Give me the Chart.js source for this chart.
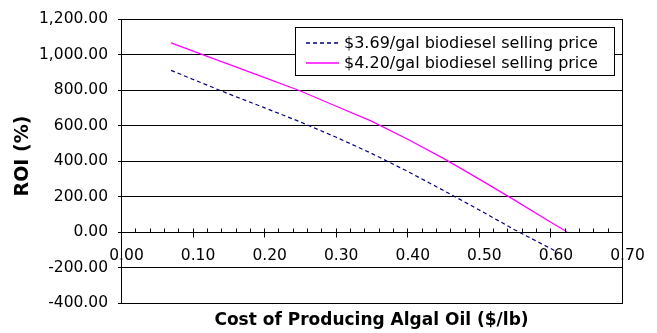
<!DOCTYPE html>
<html>
<head>
<meta charset="utf-8">
<script src="https://cdn.jsdelivr.net/npm/chart.js@4/dist/chart.umd.min.js"></script>
<style>
  html, body { margin: 0; padding: 0; background: #fff; }
  #wrap { width: 657px; height: 333px; }
</style>
</head>
<body>
<div id="wrap"><canvas id="roi" width="657" height="333"></canvas></div>
<script>
// Cost of producing algal oil ($/lb) and resulting ROI (%) for two selling prices
const cost369 = [0.07, 0.10, 0.15, 0.20, 0.25, 0.30, 0.35, 0.40, 0.45, 0.50, 0.55, 0.60, 0.61];
const roi369  = [912, 862, 780, 702, 622, 536, 444, 343, 236, 126, 13, -92, -114];
const cost420 = [0.07, 0.10, 0.15, 0.20, 0.25, 0.30, 0.35, 0.40, 0.45, 0.50, 0.55, 0.60, 0.623];
const roi420  = [1067, 1022, 947, 872, 797, 711, 626, 525, 417, 300, 180, 57, 2];

const seriesLabels = ['$3.69/gal biodiesel selling price', '$4.20/gal biodiesel selling price'];
const xTicks = [0, 0.1, 0.2, 0.3, 0.4, 0.5, 0.6, 0.7];
const xMinorTicks = [0, 0.02, 0.04, 0.06, 0.08, 0.1, 0.12, 0.14, 0.16, 0.18, 0.2, 0.22, 0.24, 0.26, 0.28, 0.3,
  0.32, 0.34, 0.36, 0.38, 0.4, 0.42, 0.44, 0.46, 0.48, 0.5, 0.52, 0.54, 0.56, 0.58, 0.6, 0.62, 0.64, 0.66, 0.68, 0.7];
const yTicks = [-400, -200, 0, 200, 400, 600, 800, 1000, 1200];
const xTitle = 'Cost of Producing Algal Oil ($/lb)';
const yTitle = 'ROI (%)';

const FONT = '"DejaVu Sans", "Liberation Sans", Arial, sans-serif';

function fmtNum(v) {
  const neg = v < 0;
  const parts = Math.abs(v).toFixed(2).split('.');
  parts[0] = parts[0].replace(/\B(?=(\d{3})+(?!\d))/g, ',');
  return (neg ? '-' : '') + parts.join('.');
}

const toPoints = (xs, ys) => xs.map((x, i) => ({ x: x, y: ys[i] }));

// Tick marks on the x axis that sits at ROI = 0
const axisTickMarks = {
  id: 'axisTickMarks',
  afterDraw(chart) {
    const { ctx, scales: { x, y } } = chart;
    const y0 = Math.round(y.getPixelForValue(0)) + 0.5;
    ctx.save();
    ctx.strokeStyle = '#000';
    ctx.lineWidth = 1;
    xMinorTicks.forEach(v => {
      const major = xTicks.some(t => Math.abs(t - v) < 1e-9);
      const px = Math.round(x.getPixelForValue(v)) + 0.5;
      ctx.beginPath();
      ctx.moveTo(px, y0 - 4);
      ctx.lineTo(px, y0 + (major ? 5 : 0));
      ctx.stroke();
    });
    // right edge of the plot frame
    const r = Math.round(chart.chartArea.right) + 0.5;
    ctx.beginPath();
    ctx.moveTo(r, Math.round(chart.chartArea.top));
    ctx.lineTo(r, Math.round(chart.chartArea.bottom) + 1);
    ctx.stroke();
    ctx.restore();
  }
};

// Rotated y-axis title
const yAxisTitle = {
  id: 'yAxisTitle',
  afterDraw(chart) {
    const { ctx } = chart;
    ctx.save();
    ctx.translate(23, 156);
    ctx.rotate(-Math.PI / 2);
    ctx.font = 'bold 19px ' + FONT;
    ctx.fillStyle = '#000';
    ctx.textAlign = 'center';
    ctx.textBaseline = 'middle';
    ctx.fillText(yTitle, 0, 0);
    ctx.restore();
  }
};

// Framed legend in the upper right of the plot area
const framedLegend = {
  id: 'framedLegend',
  afterDraw(chart) {
    const { ctx, chartArea } = chart;
    const ds = chart.data.datasets;
    ctx.save();
    ctx.font = '16px ' + FONT;
    const textW = Math.max(...ds.map(d => ctx.measureText(d.label).width));
    const padL = 10.5, sample = 33, gap = 5, padR = 16.5, rowH = 20;
    const w = Math.round(padL + sample + gap + textW + padR);
    const h = 48;
    const right = Math.round(chartArea.right) - 7.5;
    const left = right - w;
    const top = Math.round(chartArea.top) + 8.5;
    ctx.fillStyle = '#fff';
    ctx.fillRect(left, top, w, h);
    ctx.strokeStyle = '#000';
    ctx.lineWidth = 1;
    ctx.strokeRect(left, top, w, h);
    ds.forEach((d, i) => {
      const cy = Math.round(top + 15 + i * rowH);
      ctx.save();
      ctx.strokeStyle = d.borderColor;
      ctx.lineWidth = 1.5;
      ctx.setLineDash(d.borderDash || []);
      ctx.beginPath();
      ctx.moveTo(left + padL, cy);
      ctx.lineTo(left + padL + sample, cy);
      ctx.stroke();
      ctx.restore();
      ctx.fillStyle = '#000';
      ctx.textAlign = 'left';
      ctx.textBaseline = 'middle';
      ctx.fillText(d.label, left + padL + sample + gap, cy + 1);
    });
    ctx.restore();
  }
};

new Chart(document.getElementById('roi'), {
  type: 'line',
  data: {
    datasets: [
      {
        label: seriesLabels[0],
        data: toPoints(cost369, roi369),
        borderColor: '#000080',
        borderWidth: 1.2,
        borderDash: [4, 3],
        pointRadius: 0,
        fill: false,
        tension: 0
      },
      {
        label: seriesLabels[1],
        data: toPoints(cost420, roi420),
        borderColor: '#ff00ff',
        borderWidth: 1.3,
        pointRadius: 0,
        fill: false,
        tension: 0
      }
    ]
  },
  options: {
    responsive: false,
    animation: false,
    devicePixelRatio: 1,
    layout: { padding: { left: 0, top: 18, right: 35, bottom: 0 } },
    scales: {
      x: {
        type: 'linear',
        position: { y: 0 },
        min: 0,
        max: 0.7,
        afterBuildTicks: s => { s.ticks = xTicks.map(v => ({ value: v })); },
        grid: { display: true, drawOnChartArea: false, drawTicks: false },
        border: { display: true, color: '#000', width: 1 },
        ticks: {
          color: '#000',
          font: { family: FONT, size: 15.5 },
          padding: 15,
          labelOffset: 5.5,
          maxRotation: 0,
          autoSkip: false,
          callback: v => Number(v).toFixed(2)
        }
      },
      y: {
        type: 'linear',
        position: 'left',
        min: -400,
        max: 1200,
        afterBuildTicks: s => { s.ticks = yTicks.map(v => ({ value: v })); },
        afterFit: s => { s.width = 121; },
        grid: { color: '#000', lineWidth: 1, drawTicks: true, tickLength: 3, tickColor: '#000' },
        border: { display: true, color: '#000', width: 1 },
        ticks: {
          color: '#000',
          font: { family: FONT, size: 15.5 },
          padding: 10,
          autoSkip: false,
          callback: v => fmtNum(v)
        }
      }
    },
    plugins: {
      legend: { display: false },
      tooltip: { enabled: false },
      title: {
        display: true,
        text: xTitle,
        position: 'bottom',
        fullSize: false,
        color: '#000',
        font: { family: FONT, size: 17, weight: 'bold' },
        padding: { top: 7.8, bottom: 1.8 }
      }
    }
  },
  plugins: [axisTickMarks, yAxisTitle, framedLegend]
});
</script>
</body>
</html>
